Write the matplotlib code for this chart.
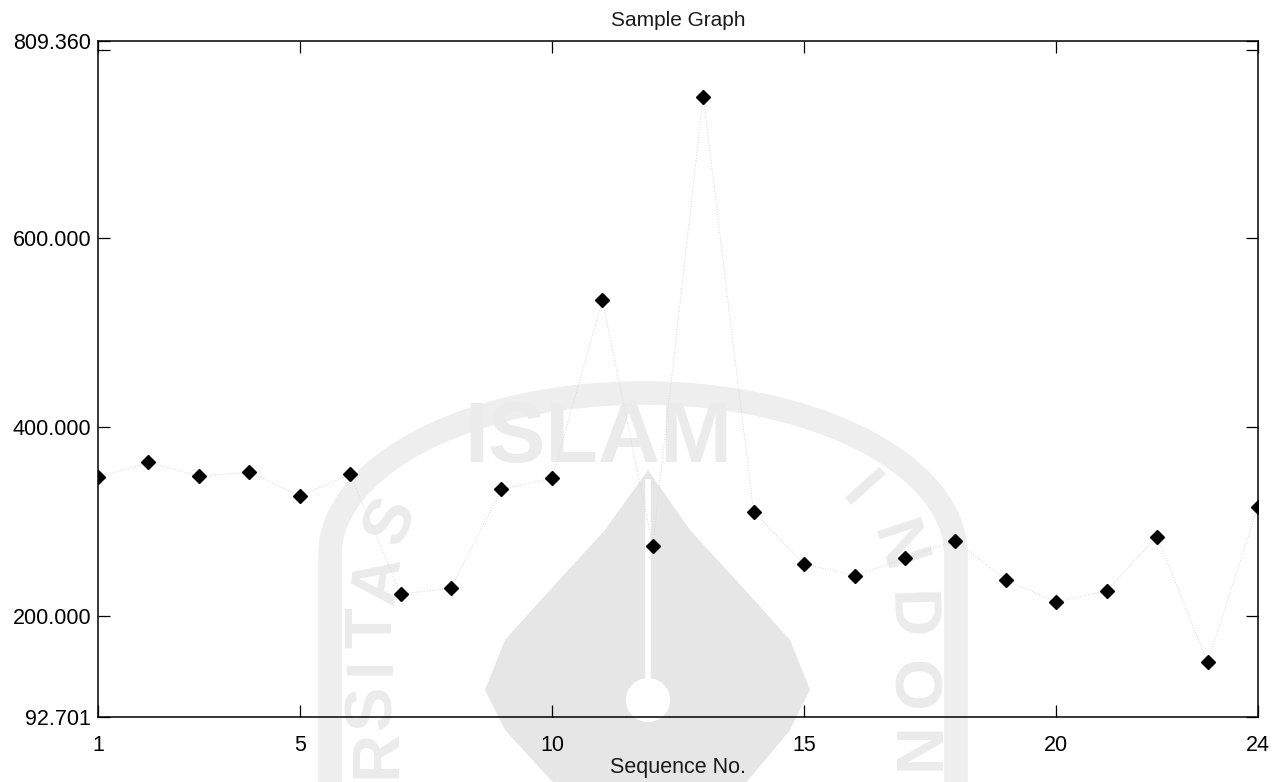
import matplotlib.pyplot as plt
import numpy as np
from matplotlib.patches import Circle, Polygon

plt.rcParams['font.family'] = ['Liberation Sans', 'DejaVu Sans']

# data
seq_no = list(range(1, 25))
values = [346.8, 362.6, 348.1, 352.1, 327.0, 349.9, 223.0, 229.3,
          334.4, 345.7, 534.4, 274.1, 750.3, 309.7, 255.0, 242.3,
          261.1, 279.7, 238.1, 214.5, 226.8, 283.9, 150.6, 315.7]

y_min, y_max = 92.701, 809.360
y_ticks = [y_min, 200, 400, 600, 800, y_max]
y_labels = ['92.701', '200.000', '400.000', '600.000', '', '809.360']
x_ticks = [1, 5, 10, 15, 20, 24]

WM = '#ebebeb'

# watermark letters: (char, x px, y px, rotation)
left_letters = [('S', 392, 522, 68), ('A', 380, 580, 82), ('T', 374, 628, 90),
                ('I', 372, 666, 90), ('S', 374, 708, 90), ('R', 378, 754, 90)]
right_letters = [('I', 858, 492, -48), ('N', 895, 548, -72),
                 ('D', 907, 615, -88), ('O', 909, 686, -90),
                 ('N', 909, 754, -90)]


def watermark(fig):
    bg = fig.add_axes([0, 0, 1, 1], zorder=0)
    bg.set_xlim(0, 1285)
    bg.set_ylim(782, 0)
    bg.axis('off')
    # shield outline: straight sides, rounded top
    t = np.linspace(np.pi, 0, 120)
    xs = np.concatenate([[330], 643 + 313 * np.cos(t), [956]])
    ys = np.concatenate([[800], 555 - 162 * np.sin(t), [800]])
    bg.plot(xs, ys, color='#eeeeee', lw=17, solid_capstyle='butt')
    bg.text(598, 440, 'ISLAM', fontsize=62, fontweight='bold', color=WM,
            ha='center', va='center')
    for ch, x, y, rot in left_letters + right_letters:
        bg.text(x, y, ch, rotation=rot, fontsize=48, fontweight='bold',
                color=WM, ha='center', va='center')
    drop = [(648, 470), (690, 530), (745, 590), (790, 640), (810, 690),
            (790, 730), (740, 790), (560, 790), (505, 730), (485, 690),
            (505, 640), (550, 590), (605, 530)]
    bg.add_patch(Polygon(drop, closed=True, color='#e6e6e6', lw=0))
    bg.plot([648, 648], [482, 690], color='white', lw=4)
    bg.add_patch(Circle((648, 700), 22, color='white', lw=0))


fig = plt.figure(figsize=(12.85, 7.82), dpi=100)
watermark(fig)

ax = fig.add_axes([98 / 1285, 1 - 717 / 782, 1160 / 1285, 676 / 782],
                  zorder=1)
ax.set_facecolor('none')

ax.plot(seq_no, values, linestyle=':', color='#d8d8d8', lw=0.7, zorder=2)
ax.plot(seq_no, values, linestyle='none', marker='D', markersize=6.8,
        color='black', zorder=3)

ax.set_xlim(1, 24)
ax.set_ylim(y_min, y_max)
ax.set_xticks(x_ticks)
ax.set_yticks(y_ticks)
ax.set_yticklabels(y_labels)

ax.tick_params(axis='both', direction='in', length=8.5, width=0.9,
               colors='black', labelsize=15.5, top=True, right=True)
ax.tick_params(axis='x', pad=13)
ax.tick_params(axis='y', pad=5)
for s in ax.spines.values():
    s.set_linewidth(1.1)
    s.set_color('black')

ax.set_title('Sample Graph', fontsize=15, pad=11, color='#1a1a1a')
ax.set_xlabel('Sequence No.', fontsize=15.5, labelpad=1, color='#1a1a1a')

fig.savefig('out.png', dpi=100)
